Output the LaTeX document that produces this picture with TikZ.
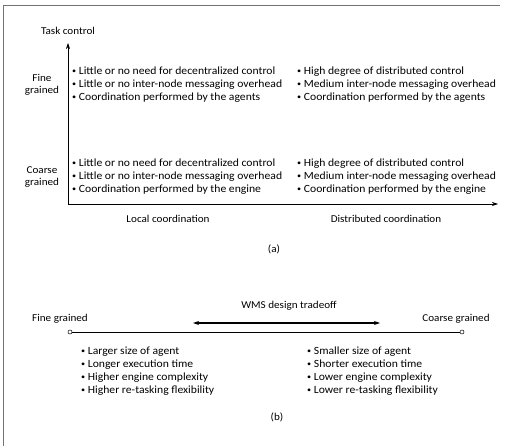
\documentclass[tikz,border=0pt]{standalone}
\usepackage{fontspec}
\usepackage{graphicx}
\setmainfont{Carlito}[FakeStretch=1.06]
\usetikzlibrary{arrows.meta}
\newcommand{\bul}{\raisebox{0.25ex}{\scalebox{0.7}{\textbullet}}\ }
\begin{document}
\begin{tikzpicture}[x=1pt,y=-1pt,
  txt/.style={font=\fontsize{11}{13}\selectfont, inner sep=0pt, align=left, anchor=west},
  lbl/.style={font=\fontsize{10.5}{12}\selectfont, inner sep=0pt, align=center},
  axisline/.style={line width=0.7pt, -{Stealth[length=6pt,width=4pt]}},
  tradeoff/.style={line width=1.1pt, {Stealth[length=6pt,width=4pt]}-{Stealth[length=6pt,width=4pt]}},
  frameline/.style={draw=black!55, line width=0.6pt},
  endpt/.style={circle, draw, fill=white, inner sep=0pt, minimum size=4pt, line width=0.5pt}]
\useasboundingbox (0,0) rectangle (513,446);
% frame (top and left edges)
\coordinate (tl) at (3,5);
\coordinate (tr) at (500,5);
\coordinate (bl) at (3,446);
\draw[frameline] (tr) -- (tl) -- (bl);
% ---------- (a) ----------
\coordinate (O) at (68,204);
\coordinate (ytip) at (68,43);
\coordinate (xtip) at (498,204);
\draw[axisline] (O) -- (ytip);
\draw[axisline] (O) -- (xtip);
\node[lbl] (task) at (68,31) {Task control};
\node[lbl] (finelbl) at (42,84.5) {Fine\\grained};
\node[lbl] (coarselbl) at (42,176.5) {Coarse\\grained};
\node[txt] (fl) at (72,84.5) {\bul Little or no need for decentralized control\\\bul Little or no inter-node messaging overhead\\\bul Coordination performed by the agents};
\node[txt] (fr) at (297,84.5) {\bul High degree of distributed control\\\bul Medium inter-node messaging overhead\\\bul Coordination performed by the agents};
\node[txt] (cl) at (72,176.5) {\bul Little or no need for decentralized control\\\bul Little or no inter-node messaging overhead\\\bul Coordination performed by the engine};
\node[txt] (cr) at (297,176.5) {\bul High degree of distributed control\\\bul Medium inter-node messaging overhead\\\bul Coordination performed by the engine};
\node[lbl] (local) at (168,219) {Local coordination};
\node[lbl] (dist) at (386,219) {Distributed coordination};
\node[lbl] (capa) at (274,249) {(a)};
% ---------- (b) ----------
\node[lbl] (wms) at (289,306) {WMS design tradeoff};
\coordinate (da1) at (193,323);
\coordinate (da2) at (380,323);
\draw[tradeoff] (da1) -- (da2);
\node[lbl] (finegr) at (60,319) {Fine grained};
\node[lbl] (coarsegr) at (456,319) {Coarse grained};
\node[endpt] (fe) at (70,332) {};
\node[endpt] (ce) at (462,332) {};
\draw[line width=0.6pt] (fe) -- (ce);
\node[txt] (bl1) at (81,371.5) {\bul Larger size of agent\\\bul Longer execution time\\\bul Higher engine complexity\\\bul Higher re-tasking flexibility};
\node[txt] (br1) at (307,371.5) {\bul Smaller size of agent\\\bul Shorter execution time\\\bul Lower engine complexity\\\bul Lower re-tasking flexibility};
\node[lbl] (capb) at (277,417) {(b)};
\end{tikzpicture}
\end{document}
